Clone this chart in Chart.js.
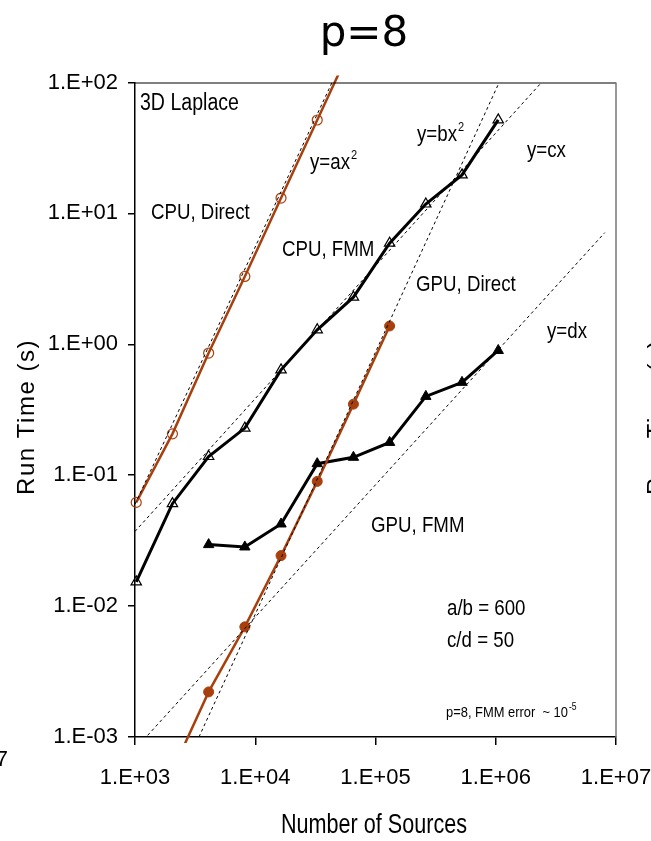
<!DOCTYPE html>
<html lang="en">
<head>
<meta charset="UTF-8">
<title>p=8</title>
<script src="https://cdn.jsdelivr.net/npm/chart.js"></script>
<style>
  html, body { margin: 0; padding: 0; background: #fff; }
  #wrap { width: 651px; height: 841px; }
</style>
</head>
<body>
<div id="wrap"><canvas id="chart" width="651" height="841"></canvas></div>
<script>
// Number of sources and run time (s) per series
const nCpuDirect = [1024, 2048, 4096, 8192, 16384, 32768, 65536];
const tCpuDirect = [0.062, 0.207, 0.857, 3.3, 13.1, 51.7, 204];

const nCpuFmm = [1024, 2048, 4096, 8192, 16384, 32768, 65536, 131072, 262144, 524288, 1048576];
const tCpuFmm = [0.0153, 0.0606, 0.139, 0.229, 0.638, 1.29, 2.29, 5.92, 11.8, 19.7, 51.8];

const nGpuDirect = [2048, 4096, 8192, 16384, 32768, 65536, 131072];
const tGpuDirect = [0.00055, 0.00221, 0.00694, 0.0243, 0.0897, 0.349, 1.38];

const nGpuFmm = [4096, 8192, 16384, 32768, 65536, 131072, 262144, 524288, 1048576];
const tGpuFmm = [0.0295, 0.0283, 0.0424, 0.1225, 0.137, 0.178, 0.400, 0.512, 0.897];

// fitted trend lines (y=ax^2, y=bx^2, y=cx, y=dx), two end points each
const trendN = [[1000, 43500], [3404, 1067000], [1000, 2400000], [1275, 8070000]];
const trendT = [[0.06, 100], [0.001, 100], [0.0372, 100], [0.00103, 7.13]];

const xTicks = [1e3, 1e4, 1e5, 1e6, 1e7];
const yTicks = [1e-3, 1e-2, 1e-1, 1e0, 1e1, 1e2];

const BROWN = '#A8400E';

function pts(xs, ys) {
    return xs.map((x, i) => ({ x: x, y: ys[i] }));
}

function sci(v) {
    const e = Math.round(Math.log10(v));
    return '1.E' + (e < 0 ? '-' : '+') + String(Math.abs(e)).padStart(2, '0');
}

// condensed text helper
function say(ctx, txt, x, y, size, sx, family) {
    ctx.save();
    ctx.translate(x, y);
    ctx.scale(sx, 1);
    ctx.font = size + 'px ' + (family || '"Liberation Sans"');
    ctx.fillText(txt, 0, 0);
    const w = ctx.measureText(txt).width * sx;
    ctx.restore();
    return w;
}

const notes = [
    // text, left x, baseline y, size, sup
    ['3D Laplace', 140, 110, 23, ''],
    ['y=ax', 310, 169, 22, '2'],
    ['CPU, Direct', 151, 219, 22, ''],
    ['CPU, FMM', 282, 256, 22, ''],
    ['y=bx', 417, 141, 22, '2'],
    ['y=cx', 527, 157, 22, ''],
    ['GPU, Direct', 416, 291, 22, ''],
    ['y=dx', 547, 338, 22, ''],
    ['GPU, FMM', 371, 532, 22, ''],
    ['a/b = 600', 447, 615, 22, ''],
    ['c/d = 50', 447, 647, 22, '']
];

const decor = {
    id: 'decor',
    afterDraw(chart) {
        const ctx = chart.ctx;
        const a = chart.chartArea;
        ctx.save();
        // frame top and right
        ctx.strokeStyle = '#000';
        ctx.lineWidth = 1;
        ctx.beginPath();
        ctx.moveTo(a.left, a.top + 0.5);
        ctx.lineTo(a.right, a.top + 0.5);
        ctx.stroke();
        ctx.strokeStyle = '#777';
        ctx.lineWidth = 1.5;
        ctx.beginPath();
        ctx.moveTo(a.right, a.top);
        ctx.lineTo(a.right, a.bottom);
        ctx.stroke();

        ctx.fillStyle = '#000';
        ctx.textAlign = 'left';
        ctx.textBaseline = 'alphabetic';
        notes.forEach(n => {
            const w = say(ctx, n[0], n[1], n[2], n[3], 0.85);
            if (n[4]) say(ctx, n[4], n[1] + w + 1, n[2] - 10, 13, 0.85);
        });
        const w = say(ctx, 'p=8, FMM error  ~ 10', 446, 717, 15, 0.86);
        say(ctx, '-5', 446 + w + 1, 710, 10, 0.86);

        // title
        ctx.textAlign = 'center';
        ctx.font = '42px "DejaVu Sans"';
        ctx.fillText('p=8', 364, 46);

        // axis titles
        say(ctx, 'Number of Sources', 374, 833, 27, 0.8);
        ctx.save();
        ctx.translate(27, 417);
        ctx.rotate(-Math.PI / 2);
        ctx.textBaseline = 'middle';
        ctx.letterSpacing = '1.5px';
        ctx.font = '24px "Liberation Sans"';
        ctx.fillText('Run Time (s)', 0, 0);
        ctx.restore();

        // edges of the neighbouring panels
        ctx.textAlign = 'right';
        ctx.textBaseline = 'middle';
        ctx.font = '22px "Liberation Sans"';
        ctx.fillText('1.E+07', 8, 760);
        ctx.save();
        ctx.translate(657, 417);
        ctx.rotate(-Math.PI / 2);
        ctx.textAlign = 'center';
        ctx.letterSpacing = '1.5px';
        ctx.font = '24px "Liberation Sans"';
        ctx.fillText('Run Time (s)', 0, 0);
        ctx.restore();
        ctx.restore();
    }
};

const seriesClip = { left: 8, top: 7, right: 0, bottom: 6 };

const trendSets = trendN.map((ns, i) => ({
    data: pts(ns, trendT[i]),
    borderColor: '#000',
    borderWidth: 1,
    borderDash: [3, 3],
    pointRadius: 0,
    clip: 0
}));

new Chart(document.getElementById('chart'), {
    type: 'line',
    data: {
        datasets: [
            ...trendSets,
            {
                label: 'CPU, Direct',
                data: pts(nCpuDirect, tCpuDirect),
                borderColor: BROWN,
                borderWidth: 2.5,
                pointStyle: 'circle',
                pointRadius: 5,
                pointBorderWidth: 1.2,
                pointBorderColor: BROWN,
                pointBackgroundColor: 'rgba(0,0,0,0)',
                clip: seriesClip
            },
            {
                label: 'GPU, Direct',
                data: pts(nGpuDirect, tGpuDirect),
                borderColor: BROWN,
                borderWidth: 2.5,
                pointStyle: 'circle',
                pointRadius: 5,
                pointBorderWidth: 1,
                pointBorderColor: BROWN,
                pointBackgroundColor: BROWN,
                clip: seriesClip
            },
            {
                label: 'CPU, FMM',
                data: pts(nCpuFmm, tCpuFmm),
                borderColor: '#000',
                borderWidth: 3,
                pointStyle: 'triangle',
                pointRadius: 6,
                pointBorderWidth: 1.2,
                pointBorderColor: '#000',
                pointBackgroundColor: 'rgba(0,0,0,0)',
                clip: seriesClip
            },
            {
                label: 'GPU, FMM',
                data: pts(nGpuFmm, tGpuFmm),
                borderColor: '#000',
                borderWidth: 3,
                pointStyle: 'triangle',
                pointRadius: 6,
                pointBorderWidth: 1,
                pointBorderColor: '#000',
                pointBackgroundColor: '#000',
                clip: seriesClip
            }
        ]
    },
    options: {
        responsive: false,
        animation: false,
        devicePixelRatio: 1,
        layout: { autoPadding: false, padding: { top: 82.5, right: 35, bottom: 0, left: 0 } },
        plugins: { legend: { display: false }, tooltip: { enabled: false } },
        elements: { line: { tension: 0 } },
        scales: {
            x: {
                type: 'logarithmic',
                min: 1e3,
                max: 1e7,
                afterBuildTicks: s => { s.ticks = xTicks.map(v => ({ value: v })); },
                afterFit: s => {
                    s.height = 104;
                    s.paddingLeft = 0;
                    s.paddingRight = 0;
                },
                ticks: {
                    callback: v => sci(v),
                    color: '#000',
                    font: { family: 'Liberation Sans', size: 22 },
                    padding: 20,
                    maxRotation: 0,
                    autoSkip: false
                },
                grid: { drawOnChartArea: false, tickLength: 8, color: '#000', lineWidth: 1.5 },
                border: { color: '#000', width: 1.5 }
            },
            y: {
                type: 'logarithmic',
                min: 1e-3,
                max: 1e2,
                afterBuildTicks: s => { s.ticks = yTicks.map(v => ({ value: v })); },
                afterFit: s => {
                    s.width = 135;
                    s.paddingTop = 0;
                    s.paddingBottom = 0;
                },
                ticks: {
                    callback: v => sci(v),
                    color: '#000',
                    font: { family: 'Liberation Sans', size: 22 },
                    padding: 10,
                    autoSkip: false
                },
                grid: { drawOnChartArea: false, tickLength: 7, color: '#000', lineWidth: 1.5 },
                border: { color: '#000', width: 1.5 }
            }
        }
    },
    plugins: [decor]
});
</script>
</body>
</html>
